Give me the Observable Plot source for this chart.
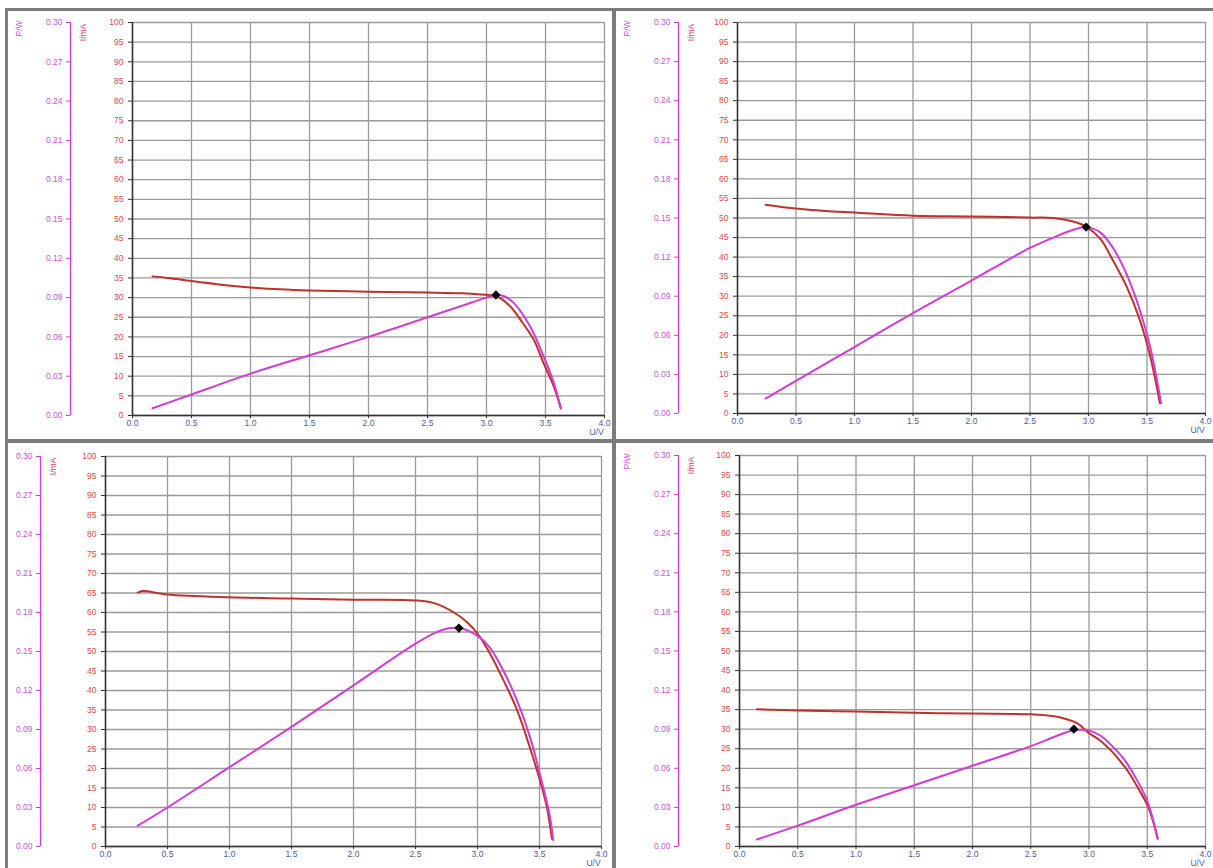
<!DOCTYPE html>
<html>
<head>
<meta charset="utf-8">
<script src="https://cdn.jsdelivr.net/npm/d3@7"></script>
<script src="https://cdn.jsdelivr.net/npm/@observablehq/plot@0.6"></script>
<style>
  html, body { margin: 0; padding: 0; background: #fff; }
  #page { position: relative; width: 1213px; height: 868px; overflow: hidden; background: #fff; }
  .bar { position: absolute; background: #7d7d7d; }
  .panel { position: absolute; }
</style>
</head>
<body>
<div id="page">
  <div class="bar" style="left:5px;top:8px;width:1208px;height:3px"></div>
  <div class="bar" style="left:5px;top:8px;width:3px;height:860px"></div>
  <div class="bar" style="left:612px;top:8px;width:4px;height:860px"></div>
  <div class="bar" style="left:5px;top:439px;width:1208px;height:4px"></div>
</div>
<script>
// ---- tick labels ----
const iTicks = [0,5,10,15,20,25,30,35,40,45,50,55,60,65,70,75,80,85,90,95,100];
const pTicks = [0.00,0.03,0.06,0.09,0.12,0.15,0.18,0.21,0.24,0.27,0.30];
const uTicks = [0.0,0.5,1.0,1.5,2.0,2.5,3.0,3.5,4.0];
const I_MAX = 100, P_MAX = 0.30;

// ---- top-left panel ----
const tlIU = [0.17,0.30,0.50,0.75,1.00,1.25,1.50,2.00,2.50,2.80,2.95,3.08,3.20,3.31,3.40,3.48,3.57,3.63];
const tlI  = [35.4,35.0,34.2,33.3,32.6,32.1,31.8,31.5,31.3,31.1,30.8,30.4,27.8,23.4,19.3,13.6,7.4,1.8];
const tlPU = [0.17,0.50,1.00,1.50,2.00,2.50,2.80,3.00,3.08,3.15,3.23,3.37,3.48,3.57,3.63];
const tlP  = [0.0055,0.016,0.032,0.046,0.060,0.075,0.084,0.090,0.092,0.091,0.086,0.068,0.046,0.025,0.0055];
const tlMppU = 3.08, tlMppP = 0.092;

// ---- top-right panel ----
const trIU = [0.24,0.50,0.75,1.00,1.50,2.00,2.50,2.70,2.87,2.98,3.10,3.21,3.33,3.44,3.53,3.61];
const trI  = [53.4,52.4,51.8,51.4,50.6,50.4,50.1,50.0,49.1,47.8,44.7,39.1,32.2,23.8,14.3,2.6];
const trPU = [0.24,0.50,1.00,1.50,2.00,2.50,2.70,2.87,2.98,3.10,3.21,3.33,3.44,3.53,3.62];
const trP  = [0.0115,0.025,0.051,0.077,0.102,0.127,0.135,0.141,0.143,0.139,0.127,0.106,0.079,0.050,0.008];
const trMppU = 2.98, trMppP = 0.143;

// ---- bottom-left panel ----
const blIU = [0.26,0.30,0.50,1.00,1.50,2.00,2.50,2.65,2.81,2.92,3.00,3.10,3.21,3.32,3.43,3.51,3.56,3.60];
const blI  = [65.1,65.5,64.6,63.9,63.6,63.3,63.1,62.4,60.0,57.4,54.6,49.5,42.6,34.9,24.6,16.2,10.0,2.0];
const blPU = [0.26,0.50,1.00,1.50,2.00,2.50,2.65,2.78,2.86,3.00,3.10,3.21,3.32,3.43,3.51,3.58,3.61];
const blP  = [0.016,0.030,0.061,0.092,0.124,0.156,0.164,0.168,0.168,0.162,0.153,0.135,0.112,0.082,0.053,0.025,0.005];
const blMppU = 2.85, blMppP = 0.168;

// ---- bottom-right panel ----
const brIU = [0.15,0.50,1.00,1.50,2.00,2.50,2.70,2.80,2.90,3.00,3.10,3.20,3.25,3.34,3.42,3.51,3.59];
const brI  = [35.1,34.8,34.5,34.2,34.0,33.8,33.3,32.6,31.5,29.0,27.0,24.2,22.5,19.0,15.0,10.0,2.0];
const brPU = [0.15,0.50,1.00,1.50,2.00,2.50,2.70,2.86,3.00,3.10,3.20,3.30,3.40,3.50,3.59];
const brP  = [0.0054,0.016,0.032,0.047,0.062,0.077,0.084,0.089,0.089,0.085,0.077,0.067,0.053,0.035,0.006];
const brMppU = 2.87, brMppP = 0.090;

const RED = "#c0302c", MAG = "#d23cd2", GRID = "#9a9a9a";
const RED_LABEL = "#e04a4a", MAG_LABEL = "#cf52dc", BLUE = "#4a5aa8", ILABEL = "#d8406a";

const toY = p => p / P_MAX * I_MAX;

function panel(cfg) {
  const iData = cfg.iU.map((u, k) => ({u, v: cfg.i[k]}));
  const pData = cfg.pU.map((u, k) => ({u, v: cfg.p[k]}));
  const mpp = [{u: cfg.mppU, v: cfg.mppP}];
  const marks = [
    Plot.gridY(iTicks, {stroke: GRID, strokeOpacity: 1, strokeWidth: 1.3}),
    Plot.gridX(uTicks, {stroke: GRID, strokeOpacity: 1, strokeWidth: 1.3}),
    Plot.ruleY([0], {stroke: "#333", strokeWidth: 1.5}),
    Plot.ruleX([0], {stroke: "#333", strokeWidth: 1.5}),
    Plot.axisY(iTicks, {anchor: "left", tickSize: 4, tickPadding: 5, stroke: "#333", fill: RED_LABEL, label: null, tickFormat: d => String(d)}),
    Plot.ruleX([0], {dx: cfg.pdx, stroke: MAG, strokeWidth: 1.3}),
    Plot.axisY(pTicks.map(toY), {anchor: "left", dx: cfg.pdx, tickSize: 4, tickPadding: 4, stroke: MAG, fill: MAG_LABEL, label: null, tickFormat: d => (d / I_MAX * P_MAX).toFixed(2)}),
    Plot.axisX(uTicks, {anchor: "bottom", tickSize: 3, tickPadding: 1, stroke: "#333", fill: BLUE, label: null, tickFormat: d => d.toFixed(1)}),
    Plot.text(["U/V"], {frameAnchor: "bottom-right", dx: -8, dy: 19, fill: BLUE, textAnchor: "middle", fontSize: 8.5}),
    Plot.text(["I/mA"], {frameAnchor: "top-left", dx: cfg.pdx + 9, dy: 10, rotate: -90, fill: ILABEL, textAnchor: "middle"}),
    Plot.line(iData, {x: "u", y: "v", stroke: RED, strokeWidth: 2, curve: "catmull-rom"}),
    Plot.line(pData, {x: "u", y: d => toY(d.v), stroke: MAG, strokeWidth: 2, curve: "catmull-rom"}),
    Plot.dot(mpp, {x: "u", y: d => toY(d.v), symbol: "diamond2", r: 4.2, fill: "#000", stroke: "none"})
  ];
  if (cfg.showPW) {
    marks.push(Plot.text(["P/W"], {frameAnchor: "top-left", dx: cfg.pdx - 55, dy: 6, rotate: -90, fill: MAG_LABEL, textAnchor: "middle"}));
  }
  const svg = Plot.plot({
    width: cfg.width, height: cfg.height,
    marginTop: cfg.mt, marginBottom: cfg.mb, marginLeft: cfg.ml, marginRight: cfg.mr,
    style: {fontFamily: "'Liberation Sans', Arial, sans-serif", fontSize: "8.5px", background: "transparent", overflow: "visible"},
    x: {domain: [0, 4], axis: null},
    y: {domain: [0, I_MAX], axis: null},
    marks
  });
  const wrap = document.createElement("div");
  wrap.className = "panel";
  wrap.style.left = cfg.left + "px";
  wrap.style.top = cfg.top + "px";
  wrap.appendChild(svg);
  document.getElementById("page").appendChild(wrap);
}

panel({left: 8, top: 11, width: 604, height: 427, mt: 11, mb: 23, ml: 124, mr: 8, pdx: -62, showPW: true,
  iU: tlIU, i: tlI, pU: tlPU, p: tlP, mppU: tlMppU, mppP: tlMppP});
panel({left: 617, top: 11, width: 596, height: 427, mt: 11, mb: 25, ml: 120, mr: 8, pdx: -59, showPW: true,
  iU: trIU, i: trI, pU: trPU, p: trP, mppU: trMppU, mppP: trMppP});
panel({left: 8, top: 443, width: 604, height: 425, mt: 13, mb: 22, ml: 97, mr: 11, pdx: -65, showPW: false,
  iU: blIU, i: blI, pU: blPU, p: blP, mppU: blMppU, mppP: blMppP});
panel({left: 617, top: 443, width: 596, height: 425, mt: 12, mb: 22, ml: 122, mr: 8, pdx: -61, showPW: true,
  iU: brIU, i: brI, pU: brPU, p: brP, mppU: brMppU, mppP: brMppP});
</script>
</body>
</html>
